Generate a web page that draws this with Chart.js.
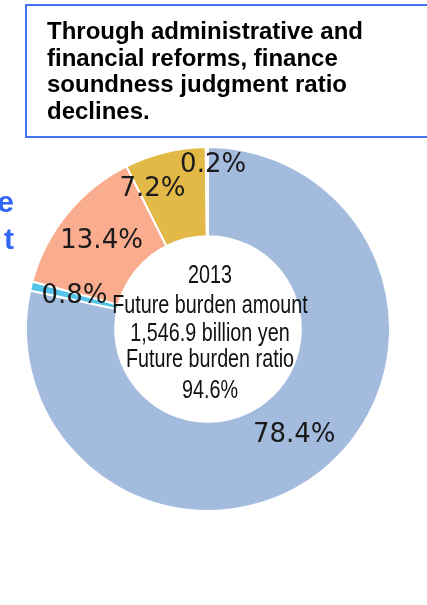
<!DOCTYPE html>
<html>
<head>
<meta charset="utf-8">
<script src="https://cdn.jsdelivr.net/npm/chart.js@4"></script>
<style>
  html, body { margin: 0; padding: 0; background: #ffffff; }
  #wrap { position: relative; width: 427px; height: 605px; }
</style>
</head>
<body>
<div id="wrap"><canvas id="c" width="427" height="605"></canvas></div>
<script>
// ---- data ----
const categories = ["A", "B", "C", "D", "E"];
const shares = [78.4, 0.8, 13.4, 7.2, 0.2];
const shareLabels = ["78.4%", "0.8%", "13.4%", "7.2%", "0.2%"];
const sliceColors = ["#a3bbdd", "#55c4e8", "#f9ac8e", "#e2b947", "#ffffff"];
const centerLines = ["2013", "Future burden amount", "1,546.9 billion yen", "Future burden ratio", "94.6%"];
const boxLines = ["Through administrative and", "financial reforms, finance", "soundness judgment ratio", "declines."];
const cutLetters = ["e", "t"];

// label nudges (pixels) relative to slice centre, for the small slices
const labelNudge = [[0, -1], [0, 0], [0, -1], [-23, -6], [6, -26]];

const overlay = {
  id: 'overlay',
  afterDatasetsDraw(chart) {
    const ctx = chart.ctx;
    const arcs = chart.getDatasetMeta(0).data;
    // slice labels
    ctx.save();
    ctx.fillStyle = '#1a1a1a';
    ctx.font = '26px "DejaVu Sans"';
    ctx.textAlign = 'center';
    ctx.textBaseline = 'middle';
    arcs.forEach((arc, i) => {
      const p = arc.tooltipPosition();
      ctx.fillText(shareLabels[i], p.x + labelNudge[i][0], p.y + labelNudge[i][1]);
    });
    ctx.restore();

    // centre text (narrow)
    const a0 = arcs[0];
    const cx = a0.x + 2, sx = 0.76;
    const baselines = [283, 313, 341, 367, 398];
    ctx.save();
    ctx.fillStyle = '#111111';
    ctx.font = '26px "Liberation Sans", Arial, sans-serif';
    ctx.textAlign = 'center';
    ctx.textBaseline = 'alphabetic';
    centerLines.forEach((t, i) => {
      ctx.save();
      ctx.translate(cx, baselines[i]);
      ctx.scale(sx, 1);
      ctx.fillText(t, 0, 0);
      ctx.restore();
    });
    ctx.restore();

    // text box
    ctx.save();
    ctx.fillStyle = '#ffffff';
    ctx.fillRect(26, 5, 410, 133);
    ctx.strokeStyle = '#4472f2';
    ctx.lineWidth = 2;
    ctx.strokeRect(26, 5, 420, 132);
    ctx.fillStyle = '#000000';
    ctx.font = 'bold 24px "Liberation Sans", Arial, sans-serif';
    ctx.textAlign = 'left';
    ctx.textBaseline = 'alphabetic';
    const bb = [39, 66, 92, 119];
    boxLines.forEach((t, i) => ctx.fillText(t, 47, bb[i]));
    ctx.restore();

    // cut-off blue text at the left edge
    ctx.save();
    ctx.fillStyle = '#2f66f5';
    ctx.font = 'bold 30px "Liberation Sans", Arial, sans-serif';
    ctx.textAlign = 'right';
    ctx.textBaseline = 'alphabetic';
    ctx.fillText(cutLetters[0], 14, 212);
    ctx.fillText(cutLetters[1], 14, 249);
    ctx.restore();
  }
};

new Chart(document.getElementById('c'), {
  type: 'doughnut',
  data: {
    labels: categories,
    datasets: [{
      data: shares,
      backgroundColor: sliceColors,
      borderColor: '#ffffff',
      borderWidth: 2,
      hoverOffset: 0
    }]
  },
  options: {
    responsive: false,
    animation: false,
    radius: 182,
    cutout: '51%',
    layout: { padding: { top: 53, right: 11, left: 0, bottom: 0 } },
    plugins: { legend: { display: false }, tooltip: { enabled: false } },
    events: []
  },
  plugins: [overlay]
});
</script>
</body>
</html>
